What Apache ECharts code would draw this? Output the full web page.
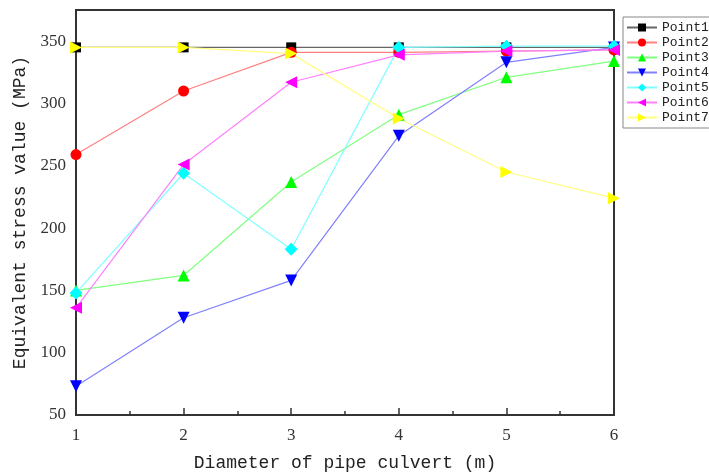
<!DOCTYPE html>
<html>
<head>
<meta charset="utf-8">
<script src="https://cdn.jsdelivr.net/npm/echarts@6/dist/echarts.min.js"></script>
<style>
  html, body { margin: 0; padding: 0; background: #fff; }
  #chart { width: 709px; height: 473px; }
</style>
</head>
<body>
<div id="chart"></div>
<script>
const diameters = [1, 2, 3, 4, 5, 6]
const seriesNames = ['Point1', 'Point2', 'Point3', 'Point4', 'Point5', 'Point6', 'Point7']
const point1 = [345, 345, 345, 345, 345, 345]
const point2 = [259, 310, 341, 341, 342, 343]
const point3 = [150, 162, 237, 291, 321, 334]
const point4 = [73, 128, 158, 274, 333, 345]
const point5 = [148, 244, 183, 345, 346, 346]
const point6 = [136, 251, 317, 339, 342, 343]
const point7 = [345, 345, 340, 288, 245, 224]
const yTicks = [50, 100, 150, 200, 250, 300, 350]

const allValues = [point1, point2, point3, point4, point5, point6, point7]
const colors = ['#000000', '#ff0000', '#00ff00', '#0000ff', '#00ffff', '#ff00ff', '#ffff00']
const lineColors = ['#666666', '#ff8080', '#80ff80', '#8080ff', '#80ffff', '#ff80ff', '#ffff80']
// triangles as paths so the legend shows the same direction
const symbols = [
  'rect',
  'circle',
  'path://M5,0 L10,10 L0,10 Z',
  'path://M0,0 L10,0 L5,10 Z',
  'diamond',
  'path://M10,0 L10,10 L0,5 Z',
  'path://M0,0 L10,5 L0,10 Z'
]
const sizes = [10, 11, 12, 12, 13, 12, 12]

const chart = echarts.init(document.getElementById('chart'))

const series = seriesNames.map((name, i) => ({
  name: name,
  type: 'line',
  data: diameters.map((d, k) => [d, allValues[i][k]]),
  symbol: symbols[i],
  symbolSize: sizes[i],
  showAllSymbol: true,
  lineStyle: { color: lineColors[i], width: 1.2 },
  itemStyle: { color: colors[i] },
  emphasis: { disabled: true },
  animation: false
}))

chart.setOption({
  animation: false,
  grid: {
    left: 76, right: 95, top: 10, bottom: 58,
    outerBoundsMode: 'none',
    containLabel: false,
    show: true, borderColor: '#333', borderWidth: 2
  },
  legend: {
    orient: 'vertical',
    left: 623, top: 17,
    itemWidth: 30, itemHeight: 10, itemGap: 2,
    padding: [4, 6, 4, 3],
    borderColor: '#888', borderWidth: 1,
    backgroundColor: '#fff',
    textStyle: { fontFamily: 'Liberation Mono', fontSize: 13, color: '#222' },
    data: seriesNames
  },
  xAxis: {
    type: 'value',
    min: 1, max: 6, interval: 1,
    name: 'Diameter of pipe culvert (m)',
    nameLocation: 'middle',
    nameGap: 39,
    nameTextStyle: { fontFamily: 'Liberation Mono', fontSize: 18, color: '#222' },
    axisLine: { lineStyle: { color: '#333', width: 2 } },
    axisTick: { inside: true, length: 7, lineStyle: { color: '#333', width: 1.5 } },
    minorTick: { show: true, splitNumber: 2, length: 4, lineStyle: { color: '#333', width: 1.5 } },
    axisLabel: { margin: 12, fontFamily: 'Liberation Serif', fontSize: 17, color: '#333' },
    splitLine: { show: false }
  },
  yAxis: {
    type: 'value',
    min: 50, max: 375, interval: 50,
    name: 'Equivalent stress value (MPa)',
    nameLocation: 'middle',
    nameGap: 38,
    nameTextStyle: { fontFamily: 'Liberation Mono', fontSize: 18, color: '#222' },
    axisLine: { lineStyle: { color: '#333', width: 2 } },
    axisTick: { show: false },
    axisLabel: {
      margin: 10, fontFamily: 'Liberation Serif', fontSize: 17, color: '#333',
      formatter: v => (yTicks.includes(v) ? String(v) : '')
    },
    splitLine: { show: false }
  },
  series: series
})
</script>
</body>
</html>
